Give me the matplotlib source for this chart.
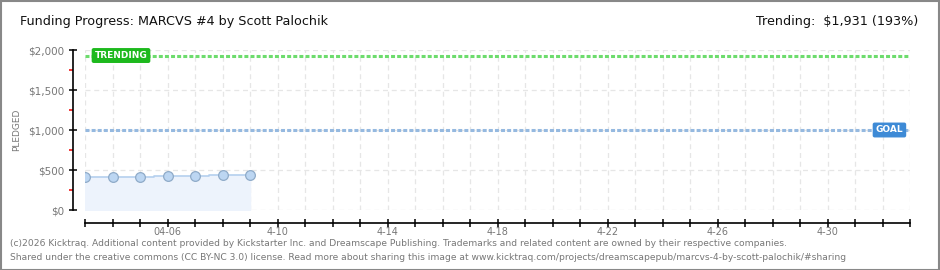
# Kicktraq funding progress chart - MARCVS #4
import matplotlib.pyplot as plt
from matplotlib.ticker import FixedLocator

# === VERİ ===
days = [3, 4, 5, 6, 7, 8, 9]            # April day of each snapshot
pledged = [415, 415, 415, 422, 422, 437, 437]
goal = 1000
trending = 1931
trending_pct = 193
tick_days = [6, 10, 14, 18, 22, 26, 30]
tick_labels = ["04-06", "4-10", "4-14", "4-18", "4-22", "4-26", "4-30"]
y_ticks = [0, 500, 1000, 1500, 2000]
y_labels = ["$0", "$500", "$1,000", "$1,500", "$2,000"]
x_start, x_end = 3, 33

W, H = 940, 270
fig = plt.figure(figsize=(W / 100, H / 100), dpi=100)
fig.patch.set_facecolor('white')

# outer frame
fig.add_artist(plt.Rectangle((0.5 / W, 0.5 / H), 1 - 1.5 / W, 1 - 1.5 / H, transform=fig.transFigure,
                             fill=False, edgecolor='#888888', lw=1.5))

ax = fig.add_axes([85 / W, (H - 210) / H, (910 - 85) / W, 160 / H])
ax.set_xlim(x_start, x_end)
ax.set_ylim(0, 2000)

# grid
for d in range(x_start, x_end + 1):
    ax.axvline(d, color='#e6e6e6', lw=0.9, ls=(0, (4, 3)), zorder=0)
for y in y_ticks:
    ax.axhline(y, color='#e6e6e6', lw=0.9, ls=(0, (4, 3)), zorder=0)

# data
ax.fill_between(days, pledged, step='mid', color='#edf3fc', zorder=1)
ax.plot(days, pledged, drawstyle='steps-mid', color='#b5d0ee', lw=1.2, zorder=2)
ax.plot(days, pledged, 'o', ms=7, mfc='#bcd6f2', mec='#8fabc8', mew=0.9, zorder=3)

# trending / goal lines
ax.axhline(trending, color='#6ddc6d', lw=2.2, ls=(0, (1.3, 0.7)), zorder=2)
ax.axhline(goal, color='#95b9e0', lw=2.2, ls=(0, (1.3, 0.7)), zorder=2)
ax.text(3.35, trending, "TRENDING", color='white', fontsize=6.5, fontweight='bold', va='center', ha='left',
        bbox=dict(boxstyle='round,pad=0.25,rounding_size=0.15', fc='#1db91d', ec='#1db91d'), zorder=5)
ax.text(31.75, goal, "GOAL", color='white', fontsize=6.5, fontweight='bold', va='center', ha='left',
        bbox=dict(boxstyle='round,pad=0.25,rounding_size=0.15', fc='#3d8ad6', ec='#3d8ad6'), zorder=5)

# spines
for s in ['top', 'right']:
    ax.spines[s].set_visible(False)
ax.spines['left'].set_position(('outward', 9))
ax.spines['bottom'].set_position(('outward', 9))
ax.spines['left'].set_linewidth(1.2)
ax.spines['bottom'].set_linewidth(1.2)

ax.set_yticks(y_ticks)
ax.set_yticklabels(y_labels)
ax.yaxis.set_minor_locator(FixedLocator([250, 750, 1250, 1750]))
ax.tick_params(axis='y', which='major', direction='inout', length=6, width=1.1, labelsize=7.5,
               labelcolor='#777777', pad=3)
ax.tick_params(axis='y', which='minor', direction='out', length=3, width=1.1, color='#ee0000')

ax.set_xticks(tick_days)
ax.set_xticklabels(tick_labels)
ax.xaxis.set_minor_locator(FixedLocator(list(range(x_start, x_end + 1))))
ax.tick_params(axis='x', which='both', direction='inout', length=6, width=1.1, labelsize=7,
               labelcolor='#777777', pad=0.5)

ax.set_ylabel("PLEDGED", fontsize=6.5, color='#777777', labelpad=5)

# texts
fig.text(20 / W, 1 - 22 / H, "Funding Progress: MARCVS #4 by Scott Palochik", fontsize=9.2, color='#111111',
         va='center', ha='left')
fig.text(918 / W, 1 - 22 / H, f"Trending:  ${trending:,} ({trending_pct}%)", fontsize=9.2, color='#111111',
         va='center', ha='right')
fig.text(10 / W, 1 - 243 / H,
         "(c)2026 Kicktraq. Additional content provided by Kickstarter Inc. and Dreamscape Publishing. "
         "Trademarks and related content are owned by their respective companies.",
         fontsize=6.6, color='#777777', va='center', ha='left')
fig.text(10 / W, 1 - 257 / H,
         "Shared under the creative commons (CC BY-NC 3.0) license. Read more about sharing this image at "
         "www.kicktraq.com/projects/dreamscapepub/marcvs-4-by-scott-palochik/#sharing",
         fontsize=6.6, color='#777777', va='center', ha='left')

fig.savefig("out.png", dpi=100)
